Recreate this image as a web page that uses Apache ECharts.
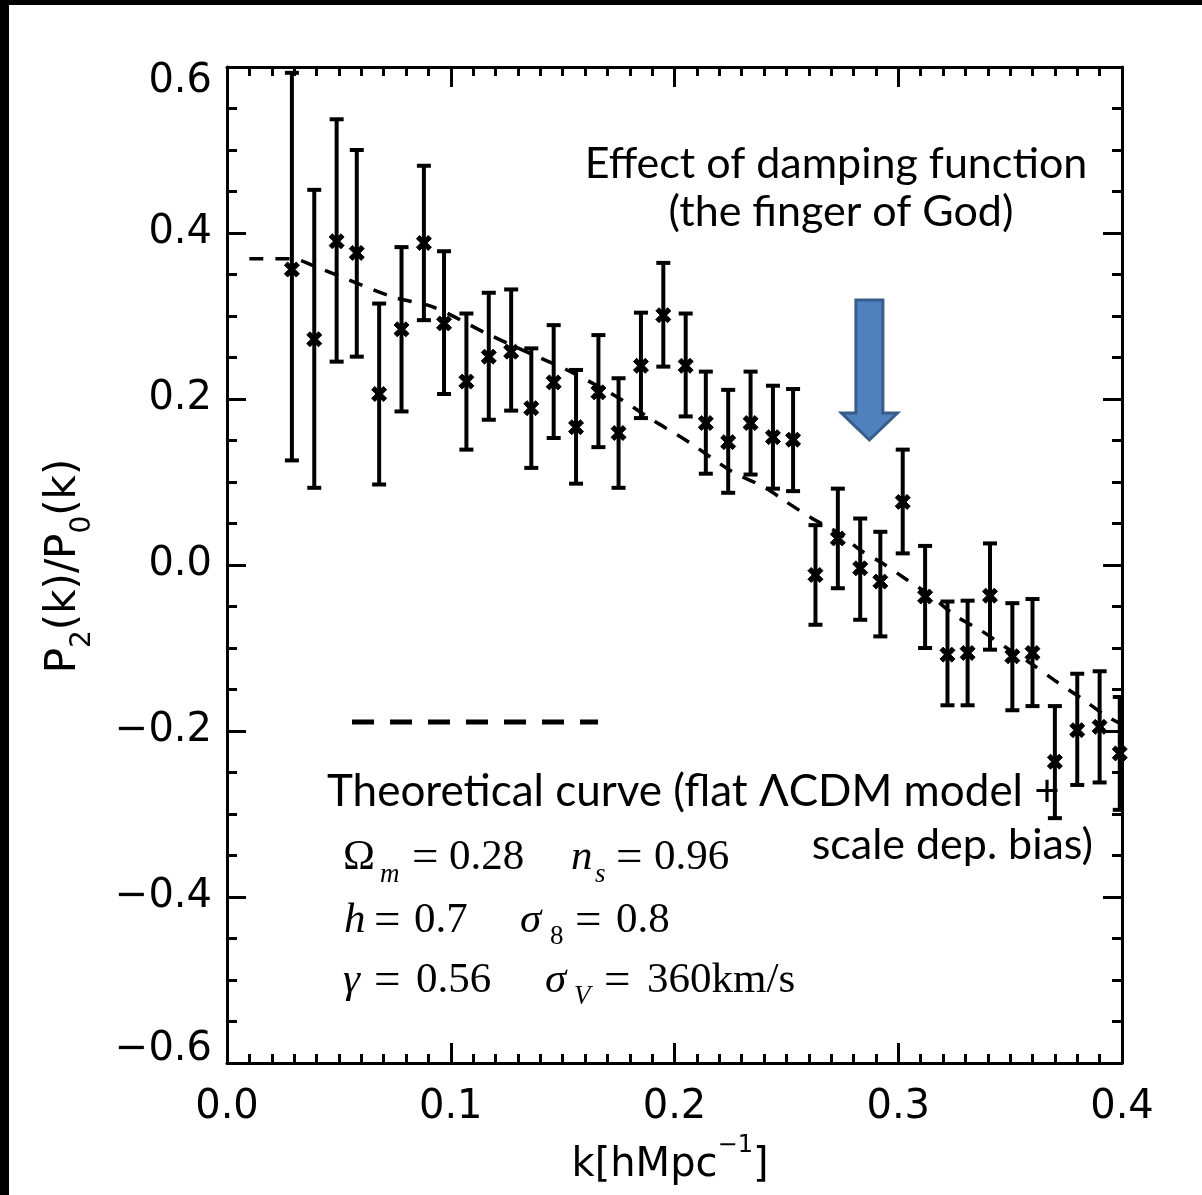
<!DOCTYPE html>
<html>
<head>
<meta charset="utf-8">
<script src="https://cdn.jsdelivr.net/npm/echarts@6/dist/echarts.min.js"></script>
<style>
  html, body { margin: 0; padding: 0; background: #ffffff; }
  #chart { width: 1202px; height: 1195px; }
</style>
</head>
<body>
<div id="chart"></div>
<script>
// Wavenumber bins k [h/Mpc]
const kBins = [0.029, 0.039, 0.049, 0.058, 0.068, 0.078, 0.088, 0.097, 0.107, 0.117,
               0.127, 0.136, 0.146, 0.156, 0.166, 0.175, 0.185, 0.195, 0.205, 0.214,
               0.224, 0.234, 0.244, 0.253, 0.263, 0.273, 0.283, 0.292, 0.302, 0.312,
               0.322, 0.331, 0.341, 0.351, 0.360, 0.370, 0.380, 0.390, 0.399];
// Measured quadrupole-to-monopole ratio P2/P0
const ratio = [0.356, 0.272, 0.390, 0.376, 0.206, 0.284, 0.388, 0.291, 0.221, 0.251,
               0.257, 0.189, 0.220, 0.166, 0.208, 0.159, 0.240, 0.301, 0.240, 0.171,
               0.148, 0.171, 0.154, 0.151, -0.012, 0.032, -0.004, -0.020, 0.076, -0.038,
               -0.108, -0.106, -0.037, -0.110, -0.106, -0.237, -0.199, -0.195, -0.227];
// Upper and lower ends of the error bars
const ratioHi = [0.593, 0.452, 0.537, 0.500, 0.315, 0.383, 0.481, 0.378, 0.303, 0.328,
                 0.332, 0.261, 0.289, 0.235, 0.277, 0.225, 0.304, 0.364, 0.303, 0.233,
                 0.211, 0.233, 0.216, 0.212, 0.048, 0.092, 0.056, 0.040, 0.139, 0.023,
                 -0.044, -0.043, 0.026, -0.046, -0.041, -0.170, -0.131, -0.128, -0.159];
const ratioLo = [0.126, 0.093, 0.245, 0.251, 0.097, 0.185, 0.295, 0.206, 0.139, 0.175,
                 0.186, 0.117, 0.153, 0.098, 0.142, 0.093, 0.177, 0.239, 0.179, 0.110,
                 0.087, 0.109, 0.092, 0.089, -0.072, -0.028, -0.066, -0.086, 0.014, -0.100,
                 -0.169, -0.169, -0.102, -0.175, -0.170, -0.305, -0.265, -0.262, -0.295];
// Theoretical curve (flat LCDM + scale dependent bias)
const theoryK = [0.010, 0.029, 0.040, 0.074, 0.092, 0.116, 0.137, 0.152, 0.174, 0.190,
                 0.207, 0.226, 0.240, 0.250, 0.261, 0.273, 0.283, 0.293, 0.304, 0.314,
                 0.326, 0.337, 0.349, 0.359, 0.371, 0.381, 0.393, 0.400];
const theoryRatio = [0.369, 0.369, 0.359, 0.323, 0.311, 0.279, 0.253, 0.235, 0.203, 0.175,
                     0.147, 0.112, 0.094, 0.076, 0.057, 0.039, 0.018, 0.002, -0.018, -0.036,
                     -0.062, -0.079, -0.101, -0.118, -0.141, -0.159, -0.182, -0.192];
// Axis tick labels
const xTickLabels = ['0.0', '0.1', '0.2', '0.3', '0.4'];
const yTickLabels = ['\u22120.6', '\u22120.4', '\u22120.2', '0.0', '0.2', '0.4', '0.6'];

const X_MIN = 0, X_MAX = 0.4, X_STEP = 0.1;
const Y_MIN = -0.6, Y_MAX = 0.6, Y_STEP = 0.2;

const AXIS_FONT = 'DejaVu Sans';
const NOTE_FONT = 'Lato';
const MATH_FONT = 'Liberation Serif';

const chart = echarts.init(document.getElementById('chart'), null, { renderer: 'canvas' });

const errorData = kBins.map((k, i) => [k, ratioLo[i], ratioHi[i]]);
const pointData = kBins.map((k, i) => [k, ratio[i]]);
const theoryData = theoryK.map((k, i) => [k, theoryRatio[i]]);

function xLabel(v) {
  const i = Math.round((v - X_MIN) / X_STEP);
  return xTickLabels[i] !== undefined ? xTickLabels[i] : '';
}
// the end labels sit inside the axis span, so they are nudged toward the middle
function yLabel(v) {
  const i = Math.round((v - Y_MIN) / Y_STEP);
  const t = yTickLabels[i] !== undefined ? yTickLabels[i] : '';
  if (i === 0) return '{lo|' + t + '}';
  if (i === yTickLabels.length - 1) return '{hi|' + t + '}';
  return t;
}

const axisLine = { show: true, onZero: false, lineStyle: { color: '#000', width: 3 } };
const tickFont = { color: '#000', fontFamily: AXIS_FONT, fontSize: 40 };

function xAxisCfg(pos, showLabel) {
  return {
    type: 'value', position: pos, min: X_MIN, max: X_MAX, interval: X_STEP,
    axisLine: axisLine,
    axisTick: { show: true, inside: true, length: 20, lineStyle: { color: '#000', width: 3 } },
    minorTick: { show: true, splitNumber: 10, length: 9, lineStyle: { color: '#000', width: 3 } },
    splitLine: { show: false },
    axisLabel: Object.assign({ show: showLabel, margin: 25, formatter: xLabel }, tickFont)
  };
}
function yAxisCfg(pos, showLabel) {
  return {
    type: 'value', position: pos, min: Y_MIN, max: Y_MAX, interval: Y_STEP,
    axisLine: axisLine,
    axisTick: { show: true, inside: true, length: 19, lineStyle: { color: '#000', width: 3 } },
    minorTick: { show: true, splitNumber: 4, length: 10, lineStyle: { color: '#000', width: 3 } },
    splitLine: { show: false },
    axisLabel: Object.assign({
      show: showLabel, margin: 15, formatter: yLabel,
      rich: {
        hi: Object.assign({ padding: [30, 0, 0, 0] }, tickFont),
        lo: Object.assign({ padding: [0, 0, 26, 0] }, tickFont)
      }
    }, tickFont)
  };
}

// Cross marker for the measured points
const crossPath = 'path://M0,3 L3,0 L7,4 L11,0 L14,3 L10,7 L14,11 L11,14 L7,10 L3,14 L0,11 L4,7 Z';

// Math parameters block: [text, x, baseline, size, italic]
const mathPieces = [
  ['\u03A9', 343, 872, 43, false], ['m', 380, 884, 27, true], ['=', 412, 875, 47, false],
  ['0.28', 449, 872, 43, false], ['n', 571, 872, 43, true], ['s', 595, 884, 27, true],
  ['=', 616, 875, 47, false], ['0.96', 654, 872, 43, false],
  ['h', 344, 935, 43, true], ['=', 374, 938, 47, false], ['0.7', 414, 935, 43, false],
  ['\u03C3', 520, 935, 43, true], ['8', 550, 946, 27, false], ['=', 575, 938, 47, false],
  ['0.8', 616, 935, 43, false],
  ['\u03B3', 343, 995, 43, true], ['=', 374, 998, 47, false], ['0.56', 416, 995, 43, false],
  ['\u03C3', 545, 995, 43, true], ['V', 574, 1006, 27, true], ['=', 604, 998, 47, false],
  ['360km/s', 647, 995, 43, false]
];

function baselineText(text, x, base, size, family, italic, align) {
  return {
    type: 'text', z: 100,
    style: {
      text: text, x: x, y: base - size * 0.34,
      fontSize: size, fontFamily: family, fontStyle: italic ? 'italic' : 'normal',
      fill: '#000', align: align || 'left', textAlign: align || 'left',
      verticalAlign: 'middle', textVerticalAlign: 'middle'
    }
  };
}

function staticGraphics(arrowPts) {
  const g = [
    // page frame
    { type: 'rect', shape: { x: 0, y: 0, width: 9, height: 1195 }, style: { fill: '#000' }, z: 100 },
    { type: 'rect', shape: { x: 0, y: 0, width: 1202, height: 5 }, style: { fill: '#000' }, z: 100 },
    // y-axis title
    {
      type: 'text', x: 70, y: 566, rotation: Math.PI / 2, z: 100,
      style: {
        text: '{a|P}{s|2}{a|(k)/P}{s|0}{a|(k)}',
        align: 'center', textAlign: 'center', verticalAlign: 'middle', textVerticalAlign: 'middle',
        rich: {
          a: { fontSize: 42, fontFamily: AXIS_FONT, fill: '#000', lineHeight: 54, verticalAlign: 'top' },
          s: { fontSize: 28, fontFamily: AXIS_FONT, fill: '#000', lineHeight: 24, verticalAlign: 'bottom' }
        }
      }
    },
    // x-axis title
    {
      type: 'text', x: 670, y: 1160, z: 100,
      style: {
        text: '{a|k[hMpc}{u|\u22121}{a|]}',
        align: 'center', textAlign: 'center', verticalAlign: 'middle', textVerticalAlign: 'middle',
        rich: {
          a: { fontSize: 40, fontFamily: AXIS_FONT, fill: '#000', lineHeight: 52, verticalAlign: 'bottom' },
          u: { fontSize: 24, fontFamily: AXIS_FONT, fill: '#000', lineHeight: 24, verticalAlign: 'top' }
        }
      }
    },
    // annotation for the damping effect
    baselineText('Effect of damping function', 836, 179, 43, NOTE_FONT, false, 'center'),
    baselineText('(the finger of God)', 841, 227, 43, NOTE_FONT, false, 'center'),
    // theory legend
    {
      type: 'line', z: 100,
      shape: { x1: 352, y1: 722, x2: 598, y2: 722 },
      style: { stroke: '#000', lineWidth: 5, lineDash: [22, 16] }
    },
    baselineText('Theoretical curve (flat \u039BCDM model +', 327, 807, 44, NOTE_FONT, false, 'left'),
    baselineText('scale dep. bias)', 1093, 860, 43, NOTE_FONT, false, 'right')
  ];
  mathPieces.forEach(p => g.push(baselineText(p[0], p[1], p[2], p[3], MATH_FONT, p[4], 'left')));
  if (arrowPts) {
    g.push({
      type: 'polygon', z: 90,
      shape: { points: arrowPts },
      style: { fill: '#4F81BD', stroke: '#385D8A', lineWidth: 3 }
    });
  }
  return g;
}

const option = {
  backgroundColor: '#ffffff',
  animation: false,
  grid: { left: 227, top: 67, width: 895, height: 996, containLabel: false },
  xAxis: [xAxisCfg('bottom', true), xAxisCfg('top', false)],
  yAxis: [yAxisCfg('left', true), yAxisCfg('right', false)],
  series: [
    {
      name: 'theory', type: 'line', xAxisIndex: 0, yAxisIndex: 0,
      data: theoryData, smooth: 0.3, showSymbol: false, clip: true, z: 3,
      lineStyle: { color: '#000', width: 3.5, type: [14, 12] }
    },
    {
      name: 'errors', type: 'custom', xAxisIndex: 0, yAxisIndex: 0, clip: true, z: 4,
      data: errorData,
      renderItem: function (params, api) {
        const k = api.value(0);
        const top = api.coord([k, api.value(2)]);
        const bot = api.coord([k, api.value(1)]);
        const hw = 7;
        const st = { stroke: '#000', lineWidth: 4 };
        return {
          type: 'group',
          children: [
            { type: 'line', shape: { x1: top[0], y1: top[1], x2: bot[0], y2: bot[1] }, style: st },
            { type: 'line', shape: { x1: top[0] - hw, y1: top[1], x2: top[0] + hw, y2: top[1] }, style: st },
            { type: 'line', shape: { x1: bot[0] - hw, y1: bot[1], x2: bot[0] + hw, y2: bot[1] }, style: st }
          ]
        };
      }
    },
    {
      name: 'points', type: 'scatter', xAxisIndex: 0, yAxisIndex: 0, clip: true, z: 5,
      data: pointData, symbol: crossPath, symbolSize: 15,
      itemStyle: { color: '#000', borderColor: '#000', borderWidth: 1, opacity: 1 }
    }
  ],
  graphic: { elements: staticGraphics(null) }
};

chart.setOption(option);

// Down arrow marking where the damping sets in
const arrowK = 0.2871;
const tip = chart.convertToPixel({ gridIndex: 0 }, [arrowK, 0.1506]);
const tail = chart.convertToPixel({ gridIndex: 0 }, [arrowK, 0.3193]);
const neck = chart.convertToPixel({ gridIndex: 0 }, [arrowK, 0.183]);
const cx = tip[0], sw = 13.5, hw = 28;
const arrowPts = [
  [cx - sw, tail[1]], [cx + sw, tail[1]], [cx + sw, neck[1]], [cx + hw, neck[1]],
  [cx, tip[1]], [cx - hw, neck[1]], [cx - sw, neck[1]]
];
chart.setOption({ graphic: { elements: staticGraphics(arrowPts) } }, { replaceMerge: ['graphic'] });
</script>
</body>
</html>
